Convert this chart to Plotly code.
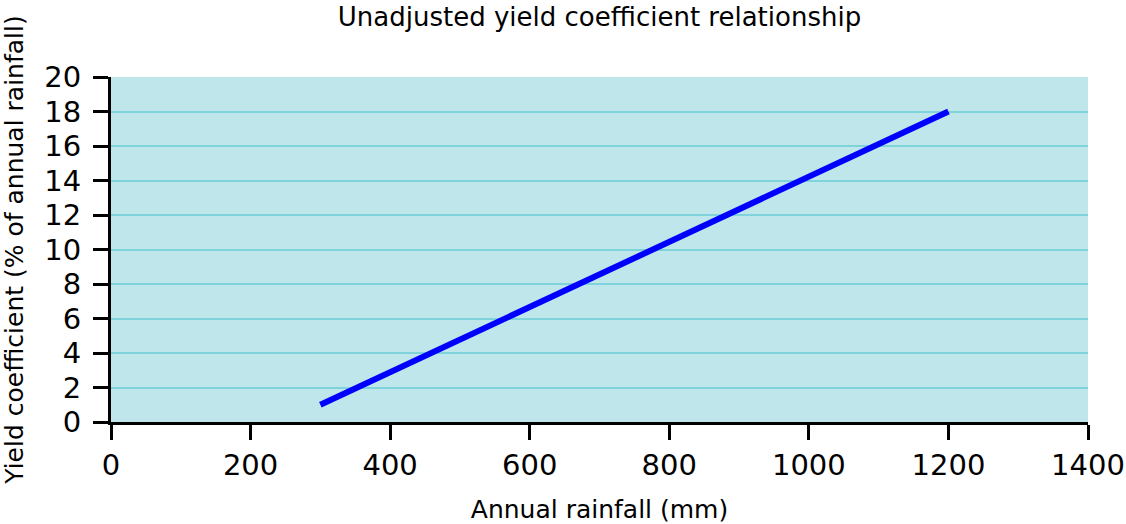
import plotly.graph_objects as go

rainfall = [300, 1200]
yield_coef = [1, 18]

x_ticks = [0, 200, 400, 600, 800, 1000, 1200, 1400]
y_ticks = [0, 2, 4, 6, 8, 10, 12, 14, 16, 18, 20]

FONT = "DejaVu Sans"

fig = go.Figure()
fig.add_trace(go.Scatter(
    x=rainfall, y=yield_coef, mode="lines",
    line=dict(color="#0000ff", width=6),
    showlegend=False, hoverinfo="skip",
))

fig.update_layout(
    width=1126, height=524,
    margin=dict(l=111, r=38, t=77, b=102, autoexpand=False),
    paper_bgcolor="white",
    plot_bgcolor="#bfe6ea",
    font=dict(family=FONT, color="black"),
    title=dict(
        text="Unadjusted yield coefficient relationship",
        x=0.5, xanchor="center", xref="paper",
        y=0.968, yanchor="middle", yref="container",
        font=dict(size=26, family=FONT, color="black"),
    ),
    xaxis=dict(
        range=[0, 1400], tickvals=x_ticks, ticktext=[str(v) for v in x_ticks],
        showgrid=False, zeroline=False,
        showline=True, linecolor="black", linewidth=3,
        ticks="outside", ticklen=15, tickwidth=3, tickcolor="black",
        tickfont=dict(size=29, family=FONT, color="black"),
        ticklabelstandoff=0,
        title=dict(text="Annual rainfall (mm)", standoff=22,
                   font=dict(size=25, family=FONT, color="black")),
        automargin=False,
    ),
    yaxis=dict(
        range=[0, 20], tickvals=y_ticks, ticktext=[str(v) for v in y_ticks],
        showgrid=True, gridcolor="#7fd3da", gridwidth=2,
        zeroline=False,
        showline=True, linecolor="black", linewidth=3,
        ticks="outside", ticklen=15, tickwidth=3, tickcolor="black",
        tickfont=dict(size=29, family=FONT, color="black"),
        ticklabelstandoff=6,
        title=dict(text="Yield coefficient (% of annual rainfall)", standoff=17,
                   font=dict(size=25, family=FONT, color="black")),
        automargin=False,
    ),
)

fig.write_html("out.html")
